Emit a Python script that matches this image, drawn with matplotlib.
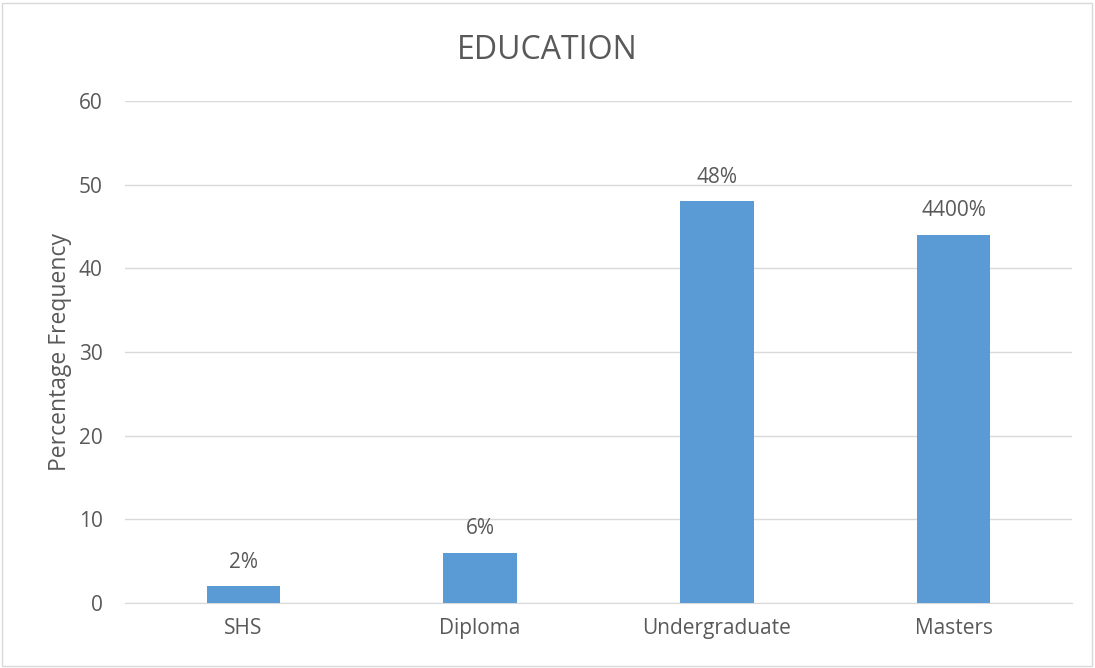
import matplotlib
matplotlib.use('Agg')
import matplotlib.pyplot as plt
from matplotlib.patches import Rectangle

# Education levels and percentage frequency
categories = ['SHS', 'Diploma', 'Undergraduate', 'Masters']
values = [2, 6, 48, 44]
value_labels = ['2%', '6%', '48%', '4400%']

plt.rcParams['font.family'] = ['Open Sans', 'DejaVu Sans']
text_color = '#595959'
bar_color = '#5b9bd5'
grid_color = '#d9d9d9'

fig = plt.figure(figsize=(10.95, 6.68), dpi=100)
ax = fig.add_axes([0.114, 0.0973, 0.865, 0.7515])

x = range(len(categories))
bars = ax.bar(x, values, width=0.31, color=bar_color, zorder=3)

# value labels above each bar
for bar, lab in zip(bars, value_labels):
    ax.text(bar.get_x() + bar.get_width() / 2, bar.get_height() + 1.6, lab,
            ha='center', va='bottom', fontsize=15, color=text_color)

ax.set_xlim(-0.5, len(categories) - 0.5)
ax.set_ylim(0, 60)
ax.set_yticks(range(0, 61, 10))
ax.set_xticks(list(x))
ax.set_xticklabels(categories)
ax.tick_params(axis='both', length=0, labelsize=15, labelcolor=text_color)
ax.tick_params(axis='y', pad=16)
ax.tick_params(axis='x', pad=11)
ax.yaxis.grid(True, color=grid_color, linewidth=1, zorder=0)
for side in ['top', 'right', 'left']:
    ax.spines[side].set_visible(False)
ax.spines['bottom'].set_color(grid_color)

ax.set_ylabel('Percentage Frequency', fontsize=16.5, color=text_color, labelpad=5)
fig.text(0.5, 0.924, 'EDUCATION', ha='center', va='center',
         fontsize=23, color=text_color)

# light border around the chart area
fig.patches.append(Rectangle((0.002, 0.003), 0.995, 0.993, transform=fig.transFigure,
                             fill=False, edgecolor='#d9d9d9', linewidth=1))

fig.savefig('out.png', dpi=100)
